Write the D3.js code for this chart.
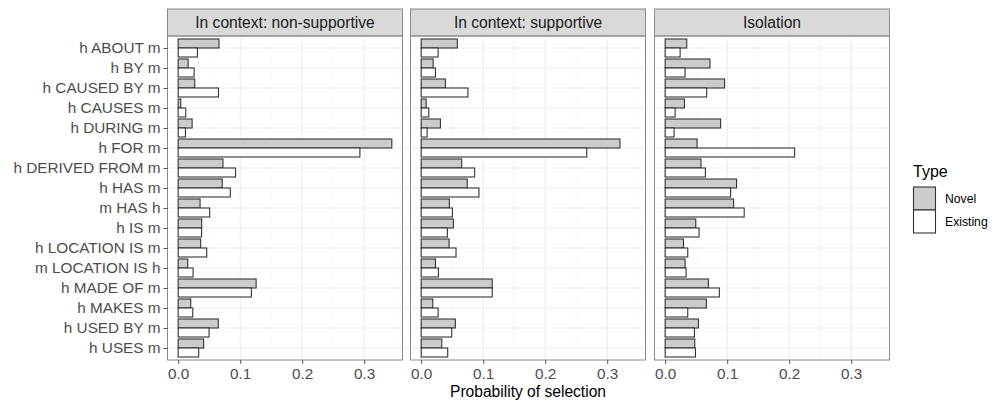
<!DOCTYPE html>
<html>
<head>
<meta charset="utf-8">
<style>
    body { margin: 0; background: #fff; }
    svg { font-family: 'Liberation Sans', Arial, sans-serif; }
    .tick text { fill: #4d4d4d; font-size: 15.3px; }
    .tick line { stroke: #555; }
    .domain { display: none; }
</style>
</head>
<body>
<svg width="1003" height="402"></svg>
<script src="https://d3js.org/d3.v7.min.js"></script>
<script>
    let categories = ["h ABOUT m", "h BY m", "h CAUSED BY m", "h CAUSES m", "h DURING m", "h FOR m",
        "h DERIVED FROM m", "h HAS m", "m HAS h", "h IS m", "h LOCATION IS m", "m LOCATION IS h",
        "h MADE OF m", "h MAKES m", "h USED BY m", "h USES m"]
    let panels = ["In context: non-supportive", "In context: supportive", "Isolation"]
    let types = ["Novel", "Existing"]
    let xTicks = [0, 0.1, 0.2, 0.3]

    // one array per panel and type
    let nonSupNovel    = [0.0658, 0.016, 0.0267, 0.0042, 0.0225, 0.3445, 0.0722, 0.071, 0.0353, 0.0379, 0.0363, 0.0154, 0.1257, 0.0203, 0.0647, 0.0411]
    let nonSupExisting = [0.031, 0.0257, 0.065, 0.0122, 0.0117, 0.293, 0.0925, 0.084, 0.0508, 0.0377, 0.046, 0.024, 0.118, 0.0235, 0.0498, 0.0331]
    let supNovel       = [0.0583, 0.0193, 0.039, 0.008, 0.031, 0.3205, 0.0653, 0.0743, 0.0455, 0.0519, 0.045, 0.023, 0.1145, 0.0187, 0.0551, 0.0332]
    let supExisting    = [0.0273, 0.023, 0.0754, 0.0123, 0.0096, 0.267, 0.0862, 0.0931, 0.0503, 0.0423, 0.0562, 0.0278, 0.1145, 0.0273, 0.0492, 0.0428]
    let isoNovel       = [0.0348, 0.0722, 0.0958, 0.0311, 0.0894, 0.0514, 0.0578, 0.1151, 0.1103, 0.0493, 0.0295, 0.0321, 0.0696, 0.0664, 0.0536, 0.0477]
    let isoExisting    = [0.0241, 0.0321, 0.0669, 0.016, 0.0144, 0.2087, 0.0648, 0.1055, 0.1274, 0.0546, 0.0364, 0.0337, 0.0873, 0.0364, 0.0472, 0.0488]

    let panelData = [
        [nonSupNovel, nonSupExisting],
        [supNovel, supExisting],
        [isoNovel, isoExisting]
    ]

    let svg = d3.select("svg")

    let panelLeft = [167.5, 410.5, 654.5]
    let panelW = 235
    let stripTop = 9, stripH = 27
    let plotTop = stripTop + stripH, plotBottom = 360

    let maxVal = d3.max(panelData.flat(2))
    let pad = maxVal * 0.05

    let x = d3.scaleLinear()
        .domain([-pad, maxVal + pad])
        .range([0, panelW])

    // discrete axis like ggplot: 0.6 step of padding on each end
    let n = categories.length
    let step = (plotBottom - plotTop) / (n - 1 + 1.2)
    let y = d3.scalePoint()
        .domain(categories)
        .range([plotTop + 0.6 * step, plotBottom - 0.6 * step])

    let color = d3.scaleOrdinal().domain(types).range(["#cccccc", "#ffffff"])

    panels.forEach((name, p) => {
        let g = svg.append("g").attr("transform", `translate(${panelLeft[p]},0)`)

        // strip
        g.append("rect")
            .attr("x", 0).attr("y", stripTop)
            .attr("width", panelW).attr("height", stripH)
            .attr("fill", "#d9d9d9").attr("stroke", "#8a8a8a")
        g.append("text")
            .attr("x", panelW / 2).attr("y", stripTop + stripH / 2 + 5.5)
            .attr("text-anchor", "middle")
            .style("font-size", "15.6px").style("fill", "#1a1a1a")
            .text(name)

        // grid
        let minor = [0.05, 0.15, 0.25, 0.35]
        g.selectAll(".minor").data(minor).join("line")
            .attr("x1", d => x(d)).attr("x2", d => x(d))
            .attr("y1", plotTop).attr("y2", plotBottom)
            .attr("stroke", "#f2f2f2").attr("stroke-width", 0.6)
        g.selectAll(".major").data(xTicks).join("line")
            .attr("x1", d => x(d)).attr("x2", d => x(d))
            .attr("y1", plotTop).attr("y2", plotBottom)
            .attr("stroke", "#ebebeb").attr("stroke-width", 1.1)
        g.selectAll(".hgrid").data(categories).join("line")
            .attr("x1", 0).attr("x2", panelW)
            .attr("y1", d => y(d)).attr("y2", d => y(d))
            .attr("stroke", "#ebebeb").attr("stroke-width", 1.1)

        // bars
        let barH = step * 0.45
        types.forEach((t, ti) => {
            g.append("g").selectAll("rect")
                .data(categories.map((c, i) => ({c: c, v: panelData[p][ti][i]})))
                .join("rect")
                .attr("x", x(0))
                .attr("y", d => y(d.c) - barH + ti * barH)
                .attr("width", d => x(d.v) - x(0))
                .attr("height", barH)
                .attr("fill", color(t))
                .attr("stroke", "#333")
                .attr("stroke-width", 1.1)
        })

        // border
        g.append("rect")
            .attr("x", 0).attr("y", plotTop)
            .attr("width", panelW).attr("height", plotBottom - plotTop)
            .attr("fill", "none").attr("stroke", "#8a8a8a")

        // x axis
        g.append("g")
            .attr("transform", `translate(0,${plotBottom})`)
            .call(d3.axisBottom(x).tickValues(xTicks).tickFormat(d3.format(".1f")).tickSize(4).tickPadding(4))
    })

    // y axis
    svg.append("g")
        .attr("transform", `translate(${panelLeft[0]},0)`)
        .call(d3.axisLeft(y).tickSize(4).tickPadding(3))

    svg.append("text")
        .attr("x", panelLeft[1] + panelW / 2).attr("y", 397)
        .attr("text-anchor", "middle")
        .style("font-size", "15.6px").style("fill", "#000")
        .text("Probability of selection")

    // legend
    let lg = svg.append("g").attr("transform", "translate(913,0)")
    lg.append("text").attr("x", 0).attr("y", 177)
        .style("font-size", "16px").text("Type")
    types.forEach((t, i) => {
        lg.append("rect")
            .attr("x", 0.5).attr("y", 187 + i * 23)
            .attr("width", 22).attr("height", 23)
            .attr("fill", color(t)).attr("stroke", "#333").attr("stroke-width", 1.1)
        lg.append("text")
            .attr("x", 32).attr("y", 187 + i * 23 + 15.5)
            .style("font-size", "12.2px").style("fill", "#000")
            .text(t)
    })
</script>
</body>
</html>
